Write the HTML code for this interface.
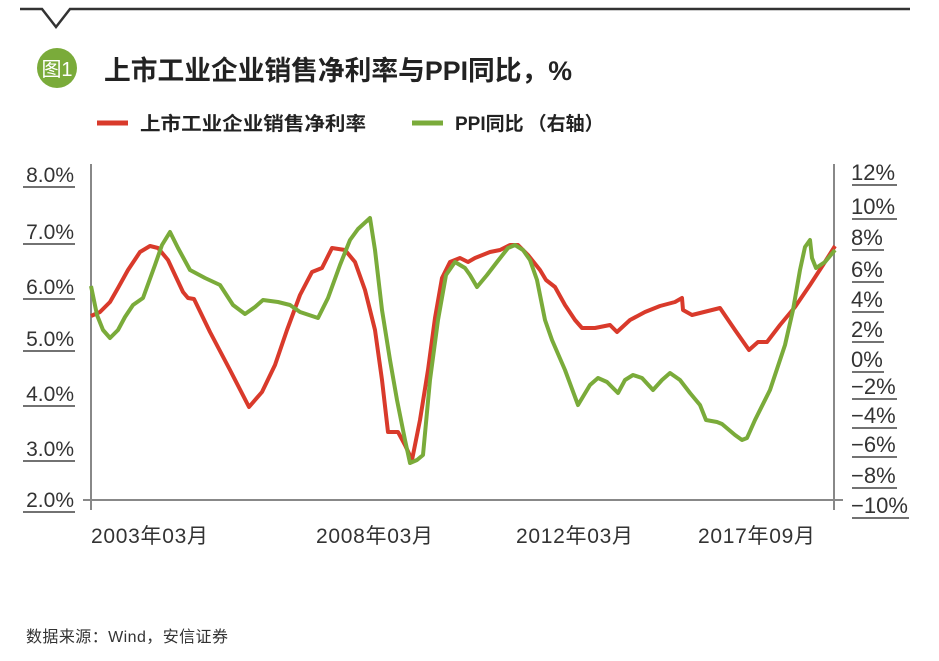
<!DOCTYPE html>
<html><head><meta charset="utf-8"><style>
body{margin:0;background:#fff;}
svg{display:block;font-family:"Liberation Sans","Noto Sans CJK SC",sans-serif;}
</style></head><body>
<svg width="939" height="661" viewBox="0 0 939 661" xmlns="http://www.w3.org/2000/svg">
<polyline points="20,9 42,9 56,27 70,9 910,9" fill="none" stroke="#333" stroke-width="2.5"/>
<circle cx="57" cy="68" r="20" fill="#7aab3a"/>
<text x="57" y="76" font-size="20" fill="#fff" text-anchor="middle">图1</text>
<text x="104" y="80" font-size="27" font-weight="bold" fill="#222" textLength="468" lengthAdjust="spacingAndGlyphs">上市工业企业销售净利率与PPI同比，%</text>
<line x1="97" y1="123" x2="128" y2="123" stroke="#d93a2b" stroke-width="5"/>
<text x="140" y="130" font-size="19" font-weight="bold" fill="#222" textLength="226" lengthAdjust="spacingAndGlyphs">上市工业企业销售净利率</text>
<line x1="412" y1="123" x2="443" y2="123" stroke="#7aab3a" stroke-width="5"/>
<text x="455" y="130" font-size="19" font-weight="bold" fill="#222">PPI同比<tspan dx="4">（右轴）</tspan></text>
<g stroke="#888" stroke-width="2">
<line x1="91" y1="164" x2="91" y2="510"/>
<line x1="834" y1="164" x2="834" y2="510"/>
<line x1="83" y1="500" x2="843" y2="500"/>
</g>
<g font-size="21" fill="#333" text-anchor="end">
<text x="74" y="182">8.0%</text><text x="74" y="239">7.0%</text><text x="74" y="294">6.0%</text><text x="74" y="346">5.0%</text><text x="74" y="401">4.0%</text><text x="74" y="456">3.0%</text><text x="74" y="507">2.0%</text>
</g>
<g stroke="#444" stroke-width="1.5">
<line x1="23" y1="187" x2="75" y2="187"/><line x1="23" y1="244" x2="75" y2="244"/><line x1="23" y1="299" x2="75" y2="299"/><line x1="23" y1="351" x2="75" y2="351"/><line x1="23" y1="406" x2="75" y2="406"/><line x1="23" y1="461" x2="75" y2="461"/><line x1="23" y1="512" x2="75" y2="512"/>
</g>
<g font-size="22" fill="#333">
<text x="851" y="180">12%</text><text x="851" y="214">10%</text><text x="851" y="245">8%</text><text x="851" y="277">6%</text><text x="851" y="307">4%</text><text x="851" y="337">2%</text><text x="851" y="367">0%</text><text x="851" y="394">−2%</text><text x="851" y="423">−4%</text><text x="851" y="452">−6%</text><text x="851" y="483">−8%</text><text x="851" y="513">−10%</text>
</g>
<g stroke="#444" stroke-width="1.5">
<line x1="852" y1="185" x2="897" y2="185"/><line x1="852" y1="219" x2="897" y2="219"/><line x1="852" y1="250" x2="884" y2="250"/><line x1="852" y1="282" x2="884" y2="282"/><line x1="852" y1="312" x2="884" y2="312"/><line x1="852" y1="342" x2="884" y2="342"/><line x1="852" y1="372" x2="884" y2="372"/><line x1="852" y1="399" x2="897" y2="399"/><line x1="852" y1="428" x2="897" y2="428"/><line x1="852" y1="457" x2="897" y2="457"/><line x1="852" y1="488" x2="897" y2="488"/><line x1="852" y1="518" x2="909" y2="518"/>
</g>
<g font-size="21" fill="#333">
<text x="91" y="543" textLength="117">2003年03月</text><text x="316" y="543" textLength="117">2008年03月</text><text x="516" y="543" textLength="117">2012年03月</text><text x="698" y="543" textLength="117">2017年09月</text>
</g>
<polyline fill="none" stroke="#d93a2b" stroke-width="4" stroke-linejoin="round" points="91,316 100,312 110,302 118,288 128,270 140,252 150,246 158,248 168,260 175,275 183,292 188,298 194,299 210,332 230,370 249,407 262,392 275,365 287,330 300,295 312,272 322,268 332,248 345,250 355,262 365,290 375,330 382,380 388,432 398,432 405,445 412,460 420,420 428,370 435,318 442,278 450,262 460,258 468,262 475,258 490,252 500,250 510,245 518,245 528,255 540,270 546,280 555,287 565,305 575,320 582,328 595,328 610,325 617,332 630,320 645,312 660,306 675,302 682,298 683,310 692,315 720,308 735,330 749,350 758,342 767,342 780,325 795,307 810,285 823,265 835,246"/>
<polyline fill="none" stroke="#7aab3a" stroke-width="4" stroke-linejoin="round" points="91,286 97,315 103,330 110,338 118,330 125,317 133,305 143,298 155,265 162,245 170,232 178,248 190,270 205,278 220,285 233,305 245,314 255,307 263,300 278,302 290,305 300,312 318,318 328,298 340,265 350,240 358,229 370,218 375,250 382,310 390,360 397,400 405,440 410,463 417,460 423,455 430,380 438,320 446,275 455,262 465,268 470,275 477,287 487,275 497,262 508,248 515,245 523,250 530,260 537,280 545,320 552,340 565,370 578,405 590,385 598,378 607,382 618,393 625,380 633,375 642,378 653,390 662,380 670,373 680,380 690,393 700,405 706,420 717,422 722,424 735,435 742,440 747,438 755,420 770,390 785,345 793,310 800,270 805,247 810,240 812,258 816,268 825,262 835,250"/>
<text x="26" y="642" font-size="16" fill="#333" textLength="202">数据来源：Wind，安信证券</text>
</svg>
</body></html>
